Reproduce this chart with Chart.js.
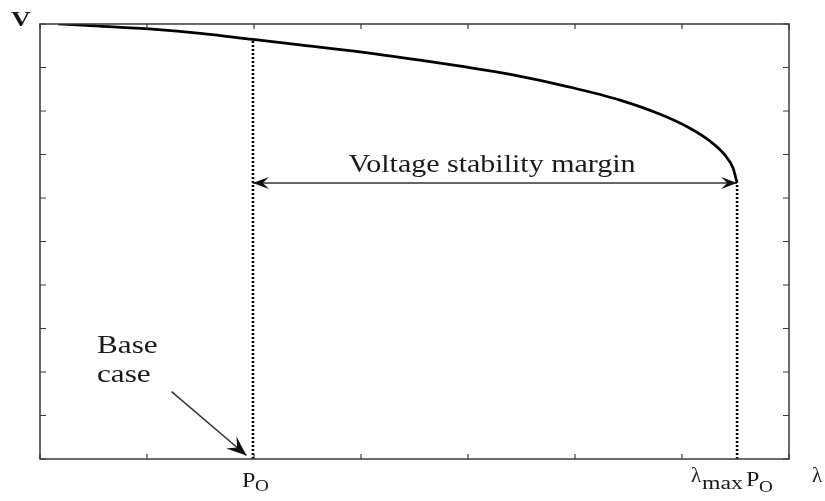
<!DOCTYPE html>
<html>
<head>
<meta charset="utf-8">
<script src="https://cdn.jsdelivr.net/npm/chart.js@4"></script>
<style>
  html, body { margin: 0; padding: 0; background: #fff; }
  #wrap { width: 825px; height: 501px; }
</style>
</head>
<body>
<div id="wrap"><canvas id="pvChart" width="825" height="501"></canvas></div>
<script>
// P-V curve (nose curve)
const lambdaVals = [0.17, 0.56, 1.05, 1.50, 1.99, 2.43, 2.99, 3.55, 3.93, 4.42, 4.95, 5.42, 5.79, 6.07, 6.26, 6.40, 6.477, 6.515];
const voltVals   = [10.0, 9.95, 9.88, 9.785, 9.645, 9.52, 9.36, 9.17, 9.03, 8.83, 8.55, 8.25, 7.93, 7.61, 7.31, 6.99, 6.69, 6.345];

const xTicks = [0, 1, 2, 3, 4, 5, 6, 7];
const yTicks = [0, 1, 2, 3, 4, 5, 6, 7, 8, 9, 10];

const baseLambda = 1.99, baseV = 9.645;   // P_O
const noseLambda = 6.515, noseV = 6.345;  // lambda_max P_O
const baseArrowFrom = [1.23, 1.55];
const baseArrowTo = [1.93, 0.08];

const curvePts = lambdaVals.map((x, i) => ({ x: x, y: voltVals[i] }));

function drawText(ctx, str, x, y, font, align, sx) {
    ctx.save();
    ctx.font = font;
    ctx.textAlign = align || 'left';
    ctx.textBaseline = 'alphabetic';
    ctx.translate(x, y);
    ctx.scale(sx || 1, 1);
    ctx.fillText(str, 0, 0);
    ctx.restore();
}

function arrowHead(ctx, x0, y0, x1, y1, len, half) {
    const a = Math.atan2(y1 - y0, x1 - x0);
    ctx.save();
    ctx.translate(x1, y1);
    ctx.rotate(a);
    ctx.beginPath();
    ctx.moveTo(0, 0);
    ctx.lineTo(-len, -half);
    ctx.lineTo(-len * 0.62, 0);
    ctx.lineTo(-len, half);
    ctx.closePath();
    ctx.fill();
    ctx.restore();
}

const decorPlugin = {
    id: 'decor',
    afterDatasetsDraw(chart) {
        const ctx = chart.ctx;
        const xs = chart.scales.x, ys = chart.scales.y;
        const area = chart.chartArea;
        ctx.save();
        // frame
        ctx.strokeStyle = '#3a3a3a';
        ctx.lineWidth = 1.5;
        ctx.strokeRect(area.left, area.top, area.right - area.left, area.bottom - area.top);
        // inward ticks on all four sides
        ctx.lineWidth = 1.2;
        ctx.beginPath();
        xTicks.forEach(t => {
            const px = xs.getPixelForValue(t);
            ctx.moveTo(px, area.bottom); ctx.lineTo(px, area.bottom - 5);
            ctx.moveTo(px, area.top); ctx.lineTo(px, area.top + 5);
        });
        yTicks.forEach(t => {
            const py = ys.getPixelForValue(t);
            ctx.moveTo(area.left, py); ctx.lineTo(area.left + 6, py);
            ctx.moveTo(area.right, py); ctx.lineTo(area.right - 6, py);
        });
        ctx.stroke();

        // arrowheads
        ctx.fillStyle = '#111';
        const mx0 = xs.getPixelForValue(baseLambda), mx1 = xs.getPixelForValue(noseLambda);
        const my = ys.getPixelForValue(noseV);
        arrowHead(ctx, mx1, my, mx0, my, 16, 6);
        arrowHead(ctx, mx0, my, mx1, my, 16, 6);
        arrowHead(ctx,
            xs.getPixelForValue(baseArrowFrom[0]), ys.getPixelForValue(baseArrowFrom[1]),
            xs.getPixelForValue(baseArrowTo[0]), ys.getPixelForValue(baseArrowTo[1]), 20, 8);

        // texts
        ctx.fillStyle = '#1a1a1a';
        const serif = '"Liberation Serif", "DejaVu Serif", serif';
        drawText(ctx, 'Voltage stability margin', (mx0 + mx1) / 2 - 3, my - 11, '25px ' + serif, 'center', 1.2);
        drawText(ctx, 'Base', 97, 353, '26px ' + serif, 'left', 1.2);
        drawText(ctx, 'case', 97, 382, '26px ' + serif, 'left', 1.2);
        drawText(ctx, 'V', 11, 26, 'bold 21px ' + serif, 'left', 1.3);
        drawText(ctx, 'λ', 812, 482, '21px ' + serif, 'left', 1.0);

        const bx = xs.getPixelForValue(baseLambda);
        drawText(ctx, 'P', bx - 11, 487, '22px ' + serif, 'left', 1.1);
        drawText(ctx, 'O', bx + 2, 491, '16px ' + serif, 'left', 1.2);

        const nx = xs.getPixelForValue(noseLambda);
        drawText(ctx, 'λ', nx - 46, 482, '21px ' + serif, 'left', 1.0);
        drawText(ctx, 'max', nx - 35, 489, '19px ' + serif, 'left', 1.25);
        drawText(ctx, 'P', nx + 9, 486, '22px ' + serif, 'left', 1.1);
        drawText(ctx, 'O', nx + 22, 492, '16px ' + serif, 'left', 1.2);
        ctx.restore();
    }
};

const ctx = document.getElementById('pvChart').getContext('2d');
new Chart(ctx, {
    type: 'scatter',
    data: {
        datasets: [{
            label: 'P-V curve',
            data: curvePts,
            showLine: true,
            borderColor: '#000',
            borderWidth: 2.7,
            pointRadius: 0,
            cubicInterpolationMode: 'monotone'
        }, {
            label: 'base',
            data: [{ x: baseLambda, y: 0 }, { x: baseLambda, y: baseV }],
            showLine: true,
            borderColor: '#000',
            borderWidth: 2.6,
            borderDash: [2, 2],
            pointRadius: 0
        }, {
            label: 'nose',
            data: [{ x: noseLambda, y: 0 }, { x: noseLambda, y: noseV }],
            showLine: true,
            borderColor: '#000',
            borderWidth: 2.6,
            borderDash: [2, 2],
            pointRadius: 0
        }, {
            label: 'margin',
            data: [{ x: baseLambda, y: noseV }, { x: noseLambda, y: noseV }],
            showLine: true,
            borderColor: '#333',
            borderWidth: 1.6,
            pointRadius: 0
        }, {
            label: 'base arrow',
            data: [{ x: baseArrowFrom[0], y: baseArrowFrom[1] }, { x: baseArrowTo[0], y: baseArrowTo[1] }],
            showLine: true,
            borderColor: '#333',
            borderWidth: 1.5,
            pointRadius: 0
        }]
    },
    options: {
        responsive: false,
        animation: false,
        layout: { padding: { left: 40, top: 24, right: 36, bottom: 42 } },
        plugins: { legend: { display: false }, tooltip: { enabled: false } },
        scales: {
            x: { type: 'linear', min: 0, max: 7, display: false },
            y: { type: 'linear', min: 0, max: 10, display: false }
        }
    },
    plugins: [decorPlugin]
});
</script>
</body>
</html>
